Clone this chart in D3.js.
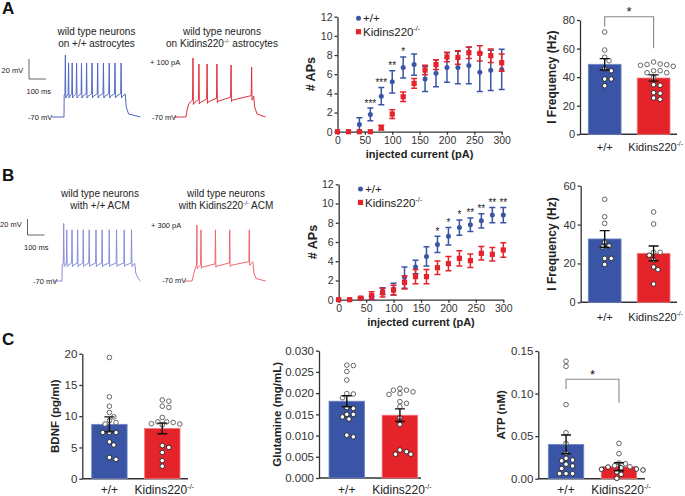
<!DOCTYPE html>
<html><head><meta charset="utf-8">
<script src="https://cdn.jsdelivr.net/npm/d3@7"></script>
<style>body{margin:0;background:#fff}svg{display:block}text{font-family:"Liberation Sans",Arial,sans-serif}</style>
</head><body><svg id="c" width="685" height="496"></svg>
<script>
// ---------------- data ----------------
const BLUE = "#3a55a5", RED = "#e5232b";
const currents = [0,20,40,60,80,100,120,140,160,180,200,220,240,260,280,300];
const xTicks = [0,50,100,150,200,250,300];
const apTicks = [0,2,4,6,8,10,12];

const apA_wt     = [0,0,0.75,1.8,3.7,5.2,6.7,7.0,5.5,6.1,6.7,6.7,6.9,6.2,6.4,6.5];
const apA_wt_err = [0,0,0.7,0.67,0.9,1.15,1.1,1.1,1.3,1.4,1.55,1.7,1.9,2.0,2.1,2.1];
const apA_ko     = [0,0,0,0,0.42,1.84,3.65,5.04,6.43,7.0,7.8,7.75,8.24,8.17,7.93,7.2];
const apA_ko_err = [0,0,0,0,0.25,0.45,0.5,0.5,0.5,0.5,0.5,0.7,0.6,0.8,0.7,0.9];
const sigA = [[60,"***"],[80,"***"],[100,"**"],[120,"*"]];

const apB_wt     = [0,0,0.1,0.15,0.9,1.1,2.3,3.4,4.5,5.75,6.6,7.5,7.8,8.2,8.8,8.8];
const apB_wt_err = [0,0,0.1,0.2,0.35,0.6,1.1,0.7,1.0,0.85,0.9,0.8,0.7,0.75,0.8,0.8];
const apB_ko     = [0,0,0.17,0.42,0.73,1.0,1.8,2.4,2.4,3.33,3.75,4.3,4.06,4.82,4.72,5.17];
const apB_ko_err = [0,0,0.1,0.4,0.45,0.5,0.7,0.75,0.75,0.7,0.75,0.8,0.7,0.7,0.7,0.75];
const sigB = [[180,"*"],[200,"*"],[220,"*"],[240,"**"],[260,"**"],[280,"**"],[300,"**"]];

const groups = ["+/+","Kidins220-/-"];

const freqA_mean = [49.0, 39.4], freqA_sem = [4.0, 2.2];
const freqA_wt = [71.6,59,54,51.5,45.7,44.5,38.7,38.7,34];
const freqA_ko = [50.6,49.2,48.9,48.3,48.7,47.6,44.5,44.5,43.1,43.1,39.9,34.7,34.3,29.1,28.7,25.4,24.5];
const freqA_ticks = [0,20,40,60,80];

const freqB_mean = [32.6, 25.2], freqB_sem = [4.3, 3.8];
const freqB_wt = [53,44,40.6,31,29,28.5,22.6,22.6,19.5];
const freqB_ko = [46.5,40.3,25.7,25.7,24.2,21.8,18.2,16.8,9.4];
const freqB_ticks = [0,20,40,60];

const bdnf_mean = [8.7, 8.05], bdnf_sem = [1.2, 0.85];
const bdnf_wt = [19.4,13.1,11.6,10.6,9.9,9.3,9.0,8.75,7.4,7.4,7.4,5.9,5.4,3.4,3.1];
const bdnf_ko = [12.6,12.4,11.6,11.4,9.8,9.1,9.0,9.1,8.8,8.75,8.6,5.3,5.0,4.2,2.9,2.0];
const bdnf_ticks = [0,5,10,15,20];

const glu_mean = [0.0181, 0.0148], glu_sem = [0.0013, 0.0015];
const glu_wt = [0.0266,0.0265,0.0251,0.0231,0.0199,0.0198,0.0189,0.0166,0.0164,0.0150,0.0150,0.0144,0.0139,0.0101,0.0097];
const glu_ko = [0.0211,0.0207,0.0207,0.0203,0.0199,0.0197,0.0180,0.0176,0.0168,0.0142,0.0126,0.0066,0.0062,0.0056,0.0056];
const glu_ticks = [0,0.005,0.010,0.015,0.020,0.025,0.030];

const atp_mean = [0.0403, 0.0141], atp_sem = [0.011, 0.0047];
const atp_wt = [0.138,0.132,0.087,0.054,0.0415,0.030,0.024,0.022,0.021,0.017,0.015,0.012,0.006,0.006,0.006];
const atp_ko = [0.0415,0.0294,0.0184,0.0176,0.0153,0.0141,0.0137,0.0129,0.0114,0.011,0.0102,0.008,0.0051,0.0004];
const atp_ticks = [0,0.05,0.10,0.15];

// voltage traces: spike times (ms from step onset), peak voltages (mV), plateau (mV), step duration (ms)
const trA_wt = {spikes:[8,27,48,74,103,133,165,198,232,266,300,336], peaks:[-8,-16,-16,-16,-16,-16,-16,-16,-16,-16,-16,-16], plat:[-48,-48], dur:360, pre:70, post:90, rise:1};
const trA_ko = {spikes:[41,76,124,182,265,386], peaks:[-11,-17,-17,-17,-18,-20], plat:[-55,-50], dur:398, pre:70, post:70, rise:25};
const trB_wt = {spikes:[10,28,59,92,125,160,200,236,278,321,366,409], peaks:[2,-6,-6,-6,-6,-6,-6,-6,-6,-6,-6,-6], plat:[-49,-49], dur:428, pre:47, post:35, rise:1};
const trB_ko = {spikes:[29,53,138,222,337], peaks:[0,-6,-6,-6,-6], plat:[-52,-47], dur:358, pre:41, post:75, rise:30};

// ---------------- drawing ----------------
const svg = d3.select("#c");
svg.append("rect").attr("width",685).attr("height",496).attr("fill","#fff");
const FONT = '"Liberation Sans",Arial,sans-serif';

function txt(x,y,s,size,opts={}){
  const t = svg.append("text").attr("x",x).attr("y",y).attr("font-size",size)
    .attr("fill",opts.fill||"#222").attr("text-anchor",opts.anchor||"start")
    .attr("font-weight",opts.bold?"bold":"normal").text(s);
  if(opts.rot) t.attr("transform",`rotate(-90,${x},${y})`);
  return t;
}
function koLabel(t,size){
  t.text("Kidins220");
  t.append("tspan").attr("font-size",size*0.6).attr("dy",-size*0.4).text("-/-");
  return t;
}
function styleAxis(sel,size){
  sel.attr("font-family",FONT);
  sel.selectAll("path,line").attr("stroke","#333").attr("stroke-width",1.3);
  sel.selectAll("text").attr("font-size",size).attr("fill","#333");
}

// panel letters
txt(2,14,"A",17,{bold:true,fill:"#111"});
txt(2,181,"B",17,{bold:true,fill:"#111"});
txt(2,345,"C",17,{bold:true,fill:"#111"});

// ---- traces ----
function tracePoints(tr){
  const pts=[[-tr.pre,-70],[0,-70]];
  const plat = t => tr.plat[0] + (tr.plat[1]-tr.plat[0])*Math.min(1,t/tr.dur);
  if(tr.rise>1){
    pts.push([tr.rise*0.3, -62]); pts.push([tr.rise*0.65, plat(0)-2]); pts.push([tr.rise, plat(0)]);
  } else pts.push([tr.rise, plat(0)]);
  tr.spikes.forEach((ts,i)=>{
    const b = plat(ts);
    pts.push([ts-2.5, b+1.5]);
    pts.push([ts, tr.peaks[i]]);
    pts.push([ts+2.5, b-3]);
    pts.push([ts+7, b-1.5]);
  });
  pts.push([tr.dur, plat(tr.dur)+1]);
  pts.push([tr.dur+6, -60]);
  pts.push([tr.dur+20, -67]);
  pts.push([tr.dur+tr.post, -70]);
  return pts.sort((a,b)=>a[0]-b[0]);
}
function drawTrace(tr, onsetX, baseY, pxPerMs, pxPerMv, color, w){
  const x = d3.scaleLinear().domain([0,100]).range([onsetX, onsetX+100*pxPerMs]);
  const y = d3.scaleLinear().domain([-70,-50]).range([baseY, baseY-20*pxPerMv]);
  const line = d3.line().x(d=>x(d[0])).y(d=>y(d[1]));
  svg.append("path").attr("d",line(tracePoints(tr))).attr("fill","none")
    .attr("stroke",color).attr("stroke-width",w).attr("stroke-linejoin","round");
}
drawTrace(trA_wt, 64, 117, 0.17, 1.0, "#5068c0", 1);
drawTrace(trA_ko, 186, 117, 0.17, 1.0, "#e0303a", 1);
drawTrace(trB_wt, 62, 281, 0.17, 0.8, "#8a8fd8", 1);
drawTrace(trB_ko, 192, 281, 0.17, 0.8, "#ee6870", 1);

// scale bars
function scaleBar(x,yTop,yBot,len){
  svg.append("path").attr("d",`M${x},${yTop}V${yBot}H${x+len}`).attr("fill","none").attr("stroke","#666").attr("stroke-width",1);
}
scaleBar(29,59,79,17);
scaleBar(27.5,219,235,17);
txt(1.5,73,"20 mV",7.5); txt(26.5,94,"100 ms",7.5);
txt(0,227,"20 mV",7.5); txt(24,250,"100 ms",7.5);
txt(28,120,"-70 mV",7.5); txt(152,120,"-70 mV",7.5);
txt(33,284,"-70 mV",7.5); txt(162,283,"-70 mV",7.5);
txt(150,65,"+ 100 pA",7.5); txt(151,228,"+ 300 pA",7.5);

// trace titles
txt(96.5,35,"wild type neurons",10,{anchor:"middle"});
txt(96.5,46.5,"on +/+ astrocytes",10,{anchor:"middle"});
txt(222,35,"wild type neurons",10,{anchor:"middle"});
{ const t=txt(222,46.5,"",10,{anchor:"middle"}); t.text("on Kidins220"); t.append("tspan").attr("font-size",6).attr("dy",-4).text("-/-"); t.append("tspan").attr("dy",4).text(" astrocytes"); }
txt(100,197,"wild type neurons",10,{anchor:"middle"});
txt(100,208.5,"with +/+ ACM",10,{anchor:"middle"});
txt(226,197,"wild type neurons",10,{anchor:"middle"});
{ const t=txt(226,208.5,"",10,{anchor:"middle"}); t.text("with Kidins220"); t.append("tspan").attr("font-size",6).attr("dy",-4).text("-/-"); t.append("tspan").attr("dy",4).text(" ACM"); }

// ---- line charts ----
function drawLine(c){
  const x=d3.scaleLinear().domain([0,300]).range([c.x0,c.x1]);
  const y=d3.scaleLinear().domain([0,12]).range([c.y0,c.y1]);
  svg.append("g").attr("transform",`translate(0,${c.y0})`)
    .call(d3.axisBottom(x).tickValues(xTicks).tickSize(3).tickPadding(1.5).tickSizeOuter(0))
    .call(s=>styleAxis(s,10.5));
  svg.append("g").attr("transform",`translate(${c.x0},0)`)
    .call(d3.axisLeft(y).tickValues(apTicks).tickSize(3).tickPadding(2).tickSizeOuter(0))
    .call(s=>styleAxis(s,10.5));
  txt(c.x0-22, (c.y0+c.y1)/2, "# APs", 12.5, {bold:true,anchor:"middle",rot:true});
  txt((c.x0+c.x1)/2, c.y0+26, "injected current (pA)", 11, {bold:true,anchor:"middle"});
  const series=[[c.wt,c.wtErr,BLUE,"circle"],[c.ko,c.koErr,RED,"square"]];
  series.forEach(([v,e,col,shape])=>{
    const g=svg.append("g");
    currents.forEach((cur,i)=>{
      const cx=x(cur);
      if(e[i]>0){
        const t=y(v[i]+e[i]), b=y(Math.max(0,v[i]-e[i]));
        g.append("path").attr("d",`M${cx},${t}V${b}M${cx-3},${t}H${cx+3}M${cx-3},${b}H${cx+3}`)
          .attr("stroke",col).attr("stroke-width",1.5).attr("fill","none");
      }
      if(shape==="circle") g.append("circle").attr("cx",cx).attr("cy",y(v[i])).attr("r",2.5).attr("fill",col);
      else g.append("rect").attr("x",cx-2.6).attr("y",y(v[i])-2.6).attr("width",5.2).attr("height",5.2).attr("fill",col);
    });
  });
  c.sig.forEach(([cur,s])=>{
    const i=currents.indexOf(cur);
    txt(x(cur), y(c.wt[i]+c.wtErr[i])-1.5, s, 10, {anchor:"middle",fill:"#222"});
  });
  // legend
  svg.append("circle").attr("cx",c.lx).attr("cy",c.ly).attr("r",2.5).attr("fill",BLUE);
  txt(c.lx+4.5,c.ly+4,"+/+",11.5);
  svg.append("rect").attr("x",c.lx-2.6).attr("y",c.ly+13.4-2.6).attr("width",5.2).attr("height",5.2).attr("fill",RED);
  koLabel(txt(c.lx+4.5,c.ly+17.5,"",11.5),11.5);
}
drawLine({x0:337.5,x1:501.7,y0:131.7,y1:16.7,wt:apA_wt,wtErr:apA_wt_err,ko:apA_ko,koErr:apA_ko_err,sig:sigA,lx:358.5,ly:18.3});
drawLine({x0:338.7,x1:503.3,y0:299.7,y1:184.3,wt:apB_wt,wtErr:apB_wt_err,ko:apB_ko,koErr:apB_ko_err,sig:sigB,lx:360.5,ly:189});

// ---- bar charts ----
function beeswarm(vals, cx, y, r){
  const placed=[], out=[];
  vals.map(v=>({v, py:y(v)})).sort((a,b)=>a.py-b.py).forEach(d=>{
    for(let k=0;k<40;k++){
      const off = (k===0?0:(k%2?1:-1)*Math.ceil(k/2))*r*0.95;
      const px=cx+off;
      if(placed.every(p=>Math.hypot(p[0]-px,p[1]-d.py)>=2*r+0.4)){placed.push([px,d.py]); out.push([px,d.py]); break;}
    }
  });
  return out;
}
function drawBar(c){
  const y=d3.scaleLinear().domain([0,c.max]).range([c.y0,c.y1]);
  const x=d3.scaleBand().domain(groups).range([c.b0,c.b1]).paddingInner(0.33).paddingOuter(0);
  const bw=x.bandwidth();
  svg.append("g").attr("transform",`translate(${c.ax},0)`)
    .call(d3.axisLeft(y).tickValues(c.ticks).tickFormat(c.fmt).tickSize(3).tickPadding(2).tickSizeOuter(0))
    .call(s=>styleAxis(s,c.tf));
  svg.append("line").attr("x1",c.ax).attr("x2",c.ae).attr("y1",c.y0).attr("y2",c.y0).attr("stroke","#333").attr("stroke-width",1.6);
  const data=[c.wt,c.ko], cols=[BLUE,RED], edge=["#7088c8","#f07c82"];
  groups.forEach((gname,i)=>{
    svg.append("rect").attr("x",x(gname)).attr("y",y(c.mean[i])).attr("width",bw).attr("height",c.y0-y(c.mean[i]))
      .attr("fill",cols[i]).attr("stroke",edge[i]).attr("stroke-width",0.8);
  });
  groups.forEach((gname,i)=>{
    const cx=x(gname)+bw/2;
    beeswarm(data[i],cx,y,2.3).forEach(([px,py])=>{
      const inside = py>y(c.mean[i]);
      svg.append("circle").attr("cx",px).attr("cy",py).attr("r",2.3).attr("fill","#fff")
        .attr("stroke",inside?"#222":"#555").attr("stroke-width",0.9);
    });
  });
  groups.forEach((gname,i)=>{
    const cx=x(gname)+bw/2, t=y(c.mean[i]+c.sem[i]), b=y(c.mean[i]-c.sem[i]);
    svg.append("path").attr("d",`M${cx},${t}V${b}M${cx-5},${t}H${cx+5}M${cx-5},${b}H${cx+5}`)
      .attr("stroke","#111").attr("stroke-width",1.4).attr("fill","none");
  });
  txt(x(groups[0])+bw/2, c.ly, "+/+", c.lf, {anchor:"middle"});
  koLabel(txt(x(groups[1])+bw/2+2, c.ly, "", c.lf, {anchor:"middle"}), c.lf);
  txt(c.yx, (c.y0+c.y1)/2, c.ylabel, c.yf, {bold:true,anchor:"middle",rot:true});
  if(c.br){
    const cx0=x(groups[0])+bw/2, cx1=x(groups[1])+bw/2, [a,top,b]=c.br;
    svg.append("path").attr("d",`M${cx0},${a}V${top}H${cx1}V${b}`).attr("fill","none").attr("stroke","#888").attr("stroke-width",1.1);
    txt((cx0+cx1)/2, top-0.5, "*", 13, {anchor:"middle",fill:"#111"});
  }
}
const f0=d3.format("d");
drawBar({ax:580,ae:677,b0:588.3,b1:670,y0:134.3,y1:20,max:80,ticks:freqA_ticks,fmt:f0,tf:11,
  mean:freqA_mean,sem:freqA_sem,wt:freqA_wt,ko:freqA_ko,ly:150.5,lf:11,ylabel:"I Frequency (Hz)",yx:556,yf:12,br:[26.7,16.7,48.3]});
drawBar({ax:580.7,ae:677,b0:588.3,b1:670,y0:302.3,y1:185.7,max:60,ticks:freqB_ticks,fmt:f0,tf:11,
  mean:freqB_mean,sem:freqB_sem,wt:freqB_wt,ko:freqB_ko,ly:320.5,lf:11,ylabel:"I Frequency (Hz)",yx:556,yf:12});
drawBar({ax:82.3,ae:188,b0:91.7,b1:180,y0:478.7,y1:353.7,max:20,ticks:bdnf_ticks,fmt:f0,tf:11.5,
  mean:bdnf_mean,sem:bdnf_sem,wt:bdnf_wt,ko:bdnf_ko,ly:494,lf:12,ylabel:"BDNF (pg/ml)",yx:59,yf:11.5});
drawBar({ax:319,ae:421,b0:329,b1:417.7,y0:478,y1:350.7,max:0.03,ticks:glu_ticks,fmt:d3.format(".3f"),tf:11.5,
  mean:glu_mean,sem:glu_sem,wt:glu_wt,ko:glu_ko,ly:494,lf:12,ylabel:"Glutamine (mg/mL)",yx:281,yf:11.5});
drawBar({ax:538.3,ae:645,b0:548.3,b1:636.7,y0:478.7,y1:351,max:0.15,ticks:atp_ticks,fmt:d3.format(".2f"),tf:11.5,
  mean:atp_mean,sem:atp_sem,wt:atp_wt,ko:atp_ko,ly:494,lf:12,ylabel:"ATP (nM)",yx:505,yf:11.5,br:[389,379.3,402.7]});
</script></body></html>
